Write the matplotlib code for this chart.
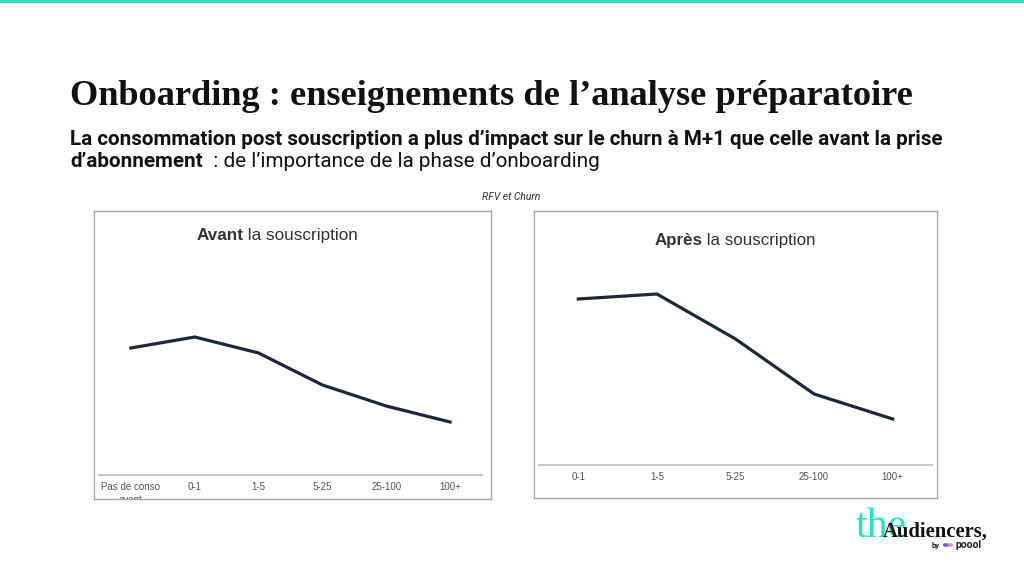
import matplotlib.pyplot as plt
from matplotlib.patches import Rectangle, Circle
from matplotlib.transforms import blended_transform_factory

# data (churn level, arbitrary units)
avant_cats = ['Pas de conso\navant', '0-1', '1-5', '5-25', '25-100', '100+']
avant_churn = [12.7, 13.8, 12.2, 9.0, 6.9, 5.3]
apres_cats = ['0-1', '1-5', '5-25', '25-100', '100+']
apres_churn = [16.6, 17.1, 12.6, 7.1, 4.6]

TITLE = 'Onboarding : enseignements de l\u2019analyse pr\u00e9paratoire'
SUB1 = 'La consommation post souscription a plus d\u2019impact sur le churn \u00e0 M+1 que celle avant la prise'
SUB2_BOLD = 'd\u2019abonnement'
SUB2_REG = '  : de l\u2019importance de la phase d\u2019onboarding'

TEAL = '#22e6c2'
NAVY = '#1c2838'
SANS = 'Roboto'
W, H = 1024, 576

fig = plt.figure(figsize=(10.24, 5.76), dpi=100)
fig.patch.set_facecolor('white')
r = fig.canvas.get_renderer()


def P(x, y):
    return x / W, 1 - y / H


def wpx(t):
    return t.get_window_extent(renderer=r).width


def fit(t, target):
    t.set_fontsize(t.get_fontsize() * target / wpx(t))


def rich(x, y, parts, target=None, ha='left', size=10, **kw):
    texts = [fig.text(0, 0, s, fontweight=wt, fontsize=size, va='baseline', **kw)
             for s, wt in parts]
    if target is not None:
        tot = sum(wpx(t) for t in texts)
        for t in texts:
            t.set_fontsize(size * target / tot)
    ws = [wpx(t) for t in texts]
    x0 = x - sum(ws) / 2 if ha == 'center' else x
    for t, w in zip(texts, ws):
        t.set_position(P(x0, y))
        x0 += w
    return texts


# top accent line
fig.add_artist(Rectangle((0, 1 - 3 / H), 1, 3 / H, transform=fig.transFigure,
                         color=TEAL, lw=0))

# title + subtitle
t = fig.text(*P(70, 105), TITLE, family='Liberation Serif', fontweight='bold',
             fontsize=26, va='baseline', color='#111111')
fit(t, 845)
t = fig.text(*P(70, 145), SUB1, family=SANS, fontweight='bold',
             fontsize=13, va='baseline', color='#111111')
fit(t, 873)
sub_size = t.get_fontsize()
rich(70, 167, [(SUB2_BOLD, 'bold'), (SUB2_REG, 'normal')], size=sub_size,
     family=SANS, color='#111111')

fig.text(*P(511, 197), 'RFV et Churn', family=SANS, style='italic',
         fontsize=7.5, ha='center', va='center', color='#333333')


def chart(box, plot, title_word, title_xy, cats, vals, ymax):
    x0, y0, x1, y1 = box
    frame = fig.add_axes([x0 / W, 1 - y1 / H, (x1 - x0) / W, (y1 - y0) / H])
    frame.set_xticks([])
    frame.set_yticks([])
    for s in frame.spines.values():
        s.set_color('#a8a8a8')
        s.set_linewidth(1)

    px0, ptop, px1, pbot = plot
    ax = fig.add_axes([px0 / W, 1 - pbot / H, (px1 - px0) / W, (pbot - ptop) / H])
    ax.patch.set_visible(False)
    n = len(cats)
    ax.plot(range(n), vals, color=NAVY, lw=2.3)
    ax.set_xlim(-0.5, n - 0.5)
    ax.set_ylim(0, ymax)
    for k in ['left', 'right', 'top']:
        ax.spines[k].set_visible(False)
    ax.spines['bottom'].set_color('#c8c8c8')
    ax.spines['bottom'].set_linewidth(1.5)
    ax.set_xticks([])
    ax.set_yticks([])

    # category labels, clipped by the frame like in the screenshot
    tr = blended_transform_factory(ax.transData, ax.transAxes)
    for i, c in enumerate(cats):
        frame.text(i, -7.5 / (pbot - ptop), c, transform=tr, ha='center', va='top',
                   fontsize=7, color='#555555', family='Liberation Sans',
                   linespacing=1.35, clip_on=True)

    rich(title_xy[0], title_xy[1], [(title_word, 'bold'), (' la souscription', 'normal')],
         target=161, ha='center', family='Liberation Sans', color='#333333')


chart((94, 211, 491, 499), (99, 255, 482, 475), 'Avant', (277, 240),
      avant_cats, avant_churn, 22)
chart((534, 211, 937, 498), (539, 255, 932, 465), 'Apr\u00e8s', (735, 245),
      apres_cats, apres_churn, 21)

# logo
t = fig.text(*P(856, 537), 'the', family='Liberation Serif',
             fontsize=28, color=TEAL, va='baseline')
fit(t, 51)
t = fig.text(*P(883, 537), 'Audiencers,', family='Liberation Serif', fontweight='bold',
             fontsize=15, color='#111111', va='baseline')
fit(t, 105)
fig.text(*P(932, 548), 'by', family=SANS, fontweight='bold',
         fontsize=5.5, color='#222222', va='baseline')
fig.add_artist(Circle(P(946, 545), 3.2 / W, transform=fig.transFigure,
                      color='#5b5bf0', lw=0))
fig.add_artist(Circle(P(950, 545), 3.2 / W, transform=fig.transFigure,
                      color='#f0708a', lw=0, alpha=0.8))
fig.text(*P(956, 548), 'poool', family=SANS, fontweight='bold',
         fontsize=7.5, color='#222222', va='baseline')

fig.savefig('out.png', dpi=100)
